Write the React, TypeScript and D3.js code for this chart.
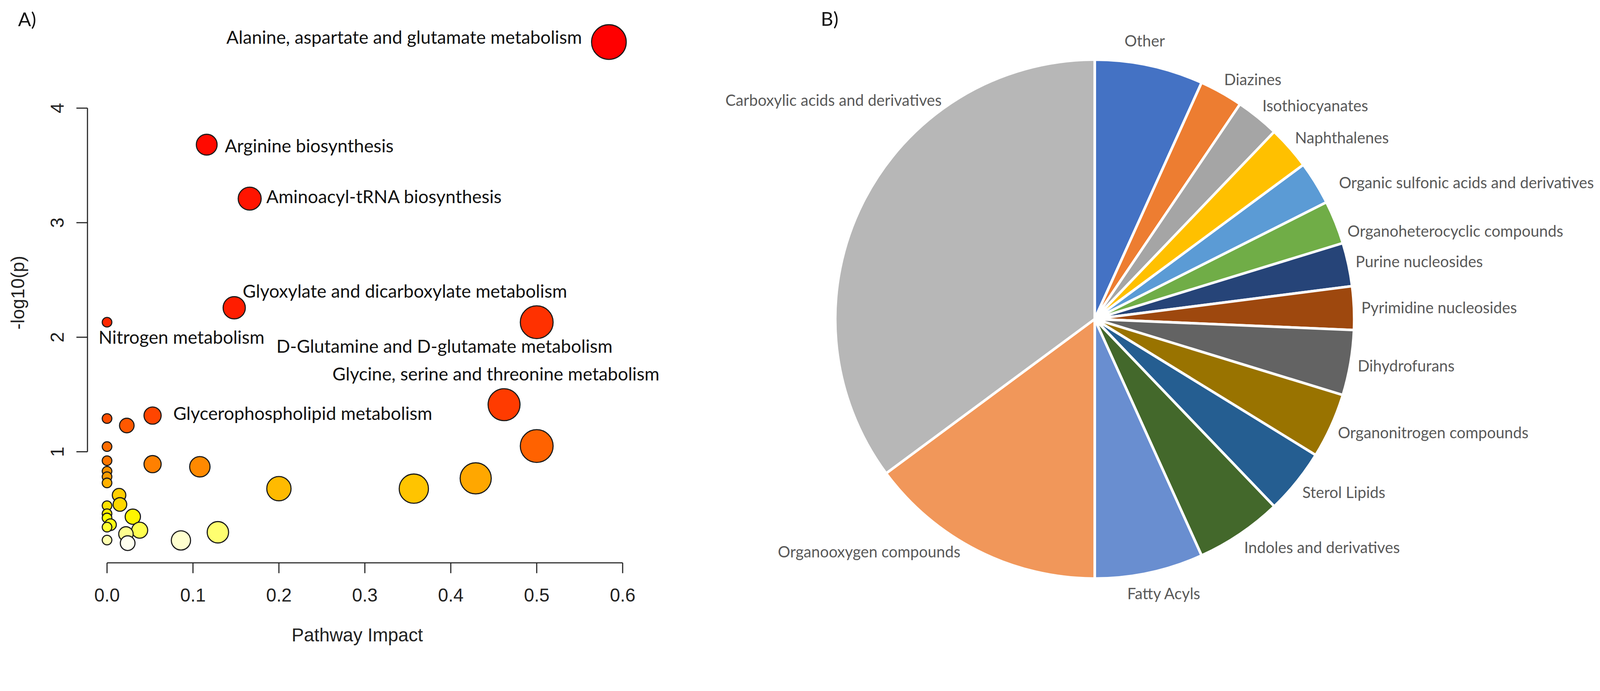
import * as d3 from "d3";
import { useEffect, useRef } from "react";

const W = 4335;
const H = 1769;

// ---- panel A: pathway impact vs -log10(p), one entry per pathway ----
const pathwayNames = [
  "Alanine, aspartate and glutamate metabolism",
  "Arginine biosynthesis",
  "Aminoacyl-tRNA biosynthesis",
  "Glyoxylate and dicarboxylate metabolism",
  "Nitrogen metabolism",
  "D-Glutamine and D-glutamate metabolism",
  "Glycine, serine and threonine metabolism",
  "Glycerophospholipid metabolism",
  "", "", "", "", "", "", "", "", "", "", "", "", "", "", "", "", "", "", "", "", "", "", "", "", "", "", "",
];
const impact = [
  0.584, 0.116, 0.166, 0.148, 0.0, 0.5, 0.462, 0.053, 0.0, 0.023, 0.5, 0.0, 0.0, 0.053, 0.108, 0.0, 0.0, 0.429,
  0.0, 0.2, 0.357, 0.014, 0.015, 0.0, 0.0, 0.03, 0.0, 0.004, 0.0, 0.038, 0.129, 0.022, 0.0, 0.086, 0.024,
];
const negLogP = [
  4.577, 3.681, 3.21, 2.257, 2.131, 2.131, 1.411, 1.316, 1.29, 1.229, 1.05, 1.045, 0.922, 0.892, 0.869, 0.83,
  0.782, 0.768, 0.728, 0.678, 0.678, 0.621, 0.54, 0.529, 0.459, 0.433, 0.422, 0.363, 0.342, 0.315, 0.297, 0.282,
  0.229, 0.226, 0.202,
];

// where the hand-placed pathway names sit relative to their bubble
const labelPlacement = [
  { i: 0, anchor: "end", dx: -73, dy: 5 },
  { i: 1, anchor: "start", dx: 49, dy: 21 },
  { i: 2, anchor: "start", dx: 45, dy: 12 },
  { i: 3, anchor: "start", dx: 23, dy: -27 },
  { i: 4, anchor: "start", dx: -23, dy: 58 },
  { i: 5, anchor: "middle", dx: -250, dy: 83 },
  { i: 6, anchor: "middle", dx: -22, dy: -66 },
  { i: 7, anchor: "start", dx: 56, dy: 12 },
];

// ---- panel B: chemical classes ----
const classNames = [
  "Other",
  "Diazines",
  "Isothiocyanates",
  "Naphthalenes",
  "Organic sulfonic acids and derivatives",
  "Organoheterocyclic compounds",
  "Purine nucleosides",
  "Pyrimidine nucleosides",
  "Dihydrofurans",
  "Organonitrogen compounds",
  "Sterol Lipids",
  "Indoles and derivatives",
  "Fatty Acyls",
  "Organooxygen compounds",
  "Carboxylic acids and derivatives",
];
const classCounts = [5, 2, 2, 2, 2, 2, 2, 2, 3, 3, 3, 4, 5, 11, 26];
const classColors = [
  "#4472C4", "#ED7D31", "#A5A5A5", "#FFC000", "#5B9BD5", "#70AD47", "#264478", "#9E480E",
  "#636363", "#997300", "#255E91", "#43682B", "#698ED0", "#F1975A", "#B7B7B7",
];

// Excel "best fit" moved a few labels away from the default spot
const pieLabelNudge: Record<string, [number, number]> = {
  Other: [-40, -27],
  "Organic sulfonic acids and derivatives": [46, 20],
  "Organoheterocyclic compounds": [14, 38],
  "Fatty Acyls": [-7, 14],
  "Organooxygen compounds": [-63, -36],
  "Carboxylic acids and derivatives": [231, -259],
};

// R's heat.colors(n)
function heatColors(n: number) {
  const j = Math.floor(n / 4);
  const i = n - j;
  const out: string[] = [];
  for (let k = 0; k < i; k++) {
    const h = i > 1 ? k / (i - 1) : 0; // red -> yellow
    out.push(d3.rgb(255, Math.round(255 * h), 0).formatHex());
  }
  for (let k = 0; k < j; k++) {
    const s = j > 1 ? 1 - 1 / (2 * j) - (k * (1 - 1 / j)) / (j - 1) : 0.5;
    out.push(d3.rgb(255, 255, Math.round(255 * (1 - s))).formatHex());
  }
  return out;
}

const AXIS_FONT = "'Liberation Sans', Arial, sans-serif";
const LABEL_FONT = "Lato, 'Open Sans', sans-serif";

const App = () => {
  const pieLabelRef = useRef<SVGGElement | null>(null);

  // panel A scales
  const x = d3.scaleLinear().domain([0, 0.6]).range([290, 1687]);
  const y = d3.scaleLinear().domain([1, 4]).range([1224, 293]);
  const r = d3.scaleSqrt().domain([0, d3.max(impact) as number]).range([13, 47]);

  const order = d3.range(impact.length).sort((a, b) => negLogP[b] - negLogP[a]);
  const heat = heatColors(impact.length);
  const fill: string[] = [];
  order.forEach((idx, rank) => (fill[idx] = heat[rank]));

  const xAxisY = 1525;
  const yAxisX = 237;

  // panel B
  const cx = 2966;
  const cy = 864.5;
  const R = 703;
  const slices = classNames.map((name, i) => ({ name, count: classCounts[i], color: classColors[i] }));
  const arcs = d3
    .pie<(typeof slices)[number]>()
    .sort(null)
    .value((d) => d.count)(slices);
  const arc = d3.arc<d3.PieArcDatum<(typeof slices)[number]>>().innerRadius(0).outerRadius(R);

  useEffect(() => {
    document.body.style.margin = "0";
    document.body.style.overflow = "hidden";
    if (!pieLabelRef.current) return;
    const g = d3.select(pieLabelRef.current);
    g.selectAll("*").remove();
    const GAP = 20;
    g.selectAll("text")
      .data(arcs)
      .join("text")
      .attr("font-family", LABEL_FONT)
      .attr("font-size", 42)
      .attr("fill", "#595959")
      .attr("text-anchor", "middle")
      .attr("dominant-baseline", "central")
      .text((d) => d.data.name)
      .each(function (d) {
        const el = this as SVGTextElement;
        const w = el.getComputedTextLength();
        const a = (d.startAngle + d.endAngle) / 2;
        const s = Math.sin(a);
        const c = Math.cos(a);
        const f = Math.max(-1, Math.min(1, 2 * s));
        const [nx, ny] = pieLabelNudge[d.data.name] ?? [0, 0];
        d3.select(el)
          .attr("x", (R + GAP) * s + (f * w) / 2 + nx)
          .attr("y", -(R + GAP) * c - c * 22 + ny);
      });
  }, []);

  return (
    <svg
      viewBox={`0 0 ${W} ${H}`}
      preserveAspectRatio="xMinYMin meet"
      style={{ position: "absolute", left: 0, top: 0, width: "100vw", height: "auto", display: "block" }}
    >
      <rect width={W} height={H} fill="#fff" />

      {/* ---------- A) ---------- */}
      <text x={49} y={71} fontFamily={LABEL_FONT} fontSize={52} fill="#111">
        A)
      </text>

      {/* x axis */}
      <g stroke="#222" strokeWidth={3} fill="none">
        <line x1={x(0)} x2={x(0.6)} y1={xAxisY} y2={xAxisY} />
        {x.ticks(6).map((t) => (
          <line key={t} x1={x(t)} x2={x(t)} y1={xAxisY} y2={xAxisY + 28} />
        ))}
      </g>
      {x.ticks(6).map((t) => (
        <text key={t} x={x(t)} y={1630} textAnchor="middle" fontFamily={AXIS_FONT} fontSize={50} fill="#222">
          {d3.format(".1f")(t)}
        </text>
      ))}
      <text x={968} y={1738} textAnchor="middle" fontFamily={AXIS_FONT} fontSize={50} fill="#222">
        Pathway Impact
      </text>

      {/* y axis */}
      <g stroke="#222" strokeWidth={3} fill="none">
        <line x1={yAxisX} x2={yAxisX} y1={y(1)} y2={y(4)} />
        {y.ticks(3).map((t) => (
          <line key={t} x1={yAxisX - 30} x2={yAxisX} y1={y(t)} y2={y(t)} />
        ))}
      </g>
      {y.ticks(3).map((t) => (
        <text
          key={t}
          transform={`translate(172,${y(t)}) rotate(-90)`}
          textAnchor="middle"
          fontFamily={AXIS_FONT}
          fontSize={50}
          fill="#222"
        >
          {t}
        </text>
      ))}
      <text
        transform={`translate(66,793) rotate(-90)`}
        textAnchor="middle"
        fontFamily={AXIS_FONT}
        fontSize={50}
        fill="#222"
      >
        -log10(p)
      </text>

      {/* bubbles */}
      <g stroke="#1a1a1a" strokeWidth={3}>
        {impact.map((v, i) => (
          <circle key={i} cx={x(v)} cy={y(negLogP[i])} r={r(v)} fill={fill[i]} />
        ))}
      </g>

      {/* pathway names */}
      {labelPlacement.map((p) => (
        <text
          key={p.i}
          x={x(impact[p.i]) + p.dx}
          y={y(negLogP[p.i]) + p.dy}
          textAnchor={p.anchor as "start" | "middle" | "end"}
          fontFamily={LABEL_FONT}
          fontSize={49}
          fill="#111"
        >
          {pathwayNames[p.i]}
        </text>
      ))}

      {/* ---------- B) ---------- */}
      <text x={2224} y={70} fontFamily={LABEL_FONT} fontSize={52} fill="#111">
        B)
      </text>
      <g transform={`translate(${cx},${cy})`}>
        {arcs.map((a) => (
          <path
            key={a.data.name}
            d={arc(a) ?? ""}
            fill={a.data.color}
            stroke="#fff"
            strokeWidth={7}
            strokeLinejoin="round"
          />
        ))}
        <g ref={pieLabelRef} />
      </g>
    </svg>
  );
};

export default App;
